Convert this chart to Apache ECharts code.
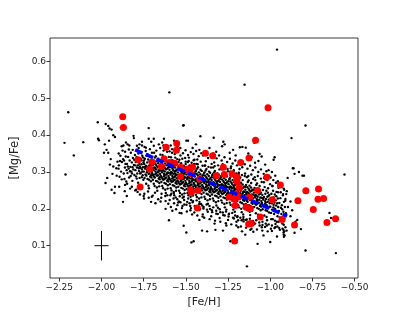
<!DOCTYPE html>
<html><head><meta charset="utf-8">
<script src="https://cdn.jsdelivr.net/npm/echarts@6/dist/echarts.min.js"></script>
<style>html,body{margin:0;padding:0;background:#fff}#c{width:399px;height:319px}</style>
</head><body><div id="c"></div>
<script>
const xTicks = [-2.25,-2.0,-1.75,-1.5,-1.25,-1.0,-0.75,-0.5];
const yTicks = [0.1,0.2,0.3,0.4,0.5,0.6];
const fitX = [-1.80,-0.90];
const fitY = [0.36,0.18];
const errCenter = [-2.0,0.1];
const errHalfX = 0.042;
const errHalfY = 0.04;
const redStars = [
[-1.874,.450],[-1.870,.421],[-1.783,.333],[-1.771,.259],[-1.714,.308],[-1.700,.327],
[-1.645,.315],[-1.629,.336],[-1.617,.367],[-1.596,.326],[-1.566,.324],[-1.554,.377],[-1.556,.359],[-1.532,.288],[-1.532,.313],
[-1.493,.308],[-1.478,.300],[-1.460,.313],[-1.470,.295],[-1.418,.281],[-1.473,.252],[-1.428,.250],[-1.467,.245],[-1.432,.202],
[-1.384,.351],[-1.341,.344],[-1.319,.290],[-1.278,.313],[-1.272,.293],[-1.226,.295],[-1.197,.286],[-1.197,.274],[-1.183,.258],[-1.175,.326],[-1.126,.338],[-1.087,.386],
[-1.242,.232],[-1.215,.227],[-1.187,.232],[-1.200,.240],[-1.207,.209],[-1.122,.232],[-1.142,.204],[-1.118,.200],[-1.128,.159],[-1.112,.160],[-1.211,.113],
[-1.075,.250],[-1.059,.178],[-1.021,.286],[-1.013,.474],[-0.940,.265],[-0.988,.225],[-0.930,.171],[-0.856,.156],
[-0.836,.222],[-0.789,.249],[-0.745,.198],[-0.714,.254],[-0.717,.226],[-0.684,.228],[-0.664,.163],[-0.613,.173]
];
const fieldCore = [
[-1.897,.318],[-1.884,.301],[-1.872,.335],[-1.861,.312],[-1.893,.287],[-1.856,.342],[-1.868,.296],[-1.879,.327],[-1.851,.305],[-1.888,.344],[-1.864,.281],[-1.875,.358],[-1.858,.322],[-1.899,.309],[-1.853,.274],[-1.866,.331],
[-1.849,.322],[-1.846,.297],[-1.842,.341],[-1.839,.309],[-1.836,.285],[-1.833,.331],[-1.829,.314],[-1.826,.352],[-1.823,.301],[-1.82,.326],[-1.817,.276],[-1.814,.338],[-1.811,.307],[-1.808,.319],[-1.805,.292],[-1.802,.346],[-1.848,.268],[-1.838,.361],[-1.827,.289],[-1.816,.313],[-1.806,.333],[-1.844,.315],[-1.831,.302],[-1.819,.296],[-1.801,.318],
[-1.799,.305],[-1.797,.327],[-1.795,.288],[-1.792,.341],[-1.79,.312],[-1.788,.296],[-1.785,.318],[-1.783,.271],[-1.781,.35],[-1.778,.303],[-1.776,.329],[-1.774,.284],[-1.772,.315],[-1.769,.337],[-1.767,.298],[-1.765,.262],[-1.762,.321],[-1.76,.307],[-1.758,.344],[-1.756,.291],[-1.754,.313],[-1.752,.279],[-1.751,.326],[-1.794,.358],[-1.786,.246],[-1.779,.31],[-1.771,.296],[-1.763,.332],[-1.757,.301],[-1.791,.282],[-1.784,.333],[-1.775,.322],[-1.768,.311],[-1.761,.286],[-1.753,.339],
[-1.749,.301],[-1.747,.322],[-1.745,.284],[-1.743,.336],[-1.741,.309],[-1.739,.293],[-1.737,.317],[-1.735,.268],[-1.733,.344],[-1.731,.299],[-1.729,.326],[-1.727,.281],[-1.725,.312],[-1.723,.334],[-1.721,.295],[-1.719,.256],[-1.717,.318],[-1.715,.304],[-1.713,.341],[-1.711,.287],[-1.709,.31],[-1.707,.275],[-1.705,.323],[-1.703,.3],[-1.701,.352],[-1.746,.241],[-1.738,.357],[-1.73,.306],[-1.722,.263],[-1.714,.329],[-1.706,.291],[-1.742,.314],[-1.734,.29],[-1.726,.302],[-1.718,.279],[-1.71,.32],[-1.702,.309],[-1.748,.331],[-1.732,.315],[-1.716,.296],[-1.704,.285],[-1.728,.348],
[-1.699,.296],[-1.697,.318],[-1.695,.279],[-1.693,.331],[-1.691,.305],[-1.689,.288],[-1.687,.312],[-1.685,.262],[-1.683,.339],[-1.681,.294],[-1.679,.321],[-1.677,.276],[-1.675,.307],[-1.673,.329],[-1.671,.29],[-1.669,.249],[-1.667,.313],[-1.665,.299],[-1.663,.336],[-1.661,.282],[-1.659,.305],[-1.657,.27],[-1.655,.318],[-1.653,.295],[-1.651,.347],[-1.696,.236],[-1.688,.352],[-1.68,.301],[-1.672,.258],[-1.664,.324],[-1.656,.286],[-1.692,.309],[-1.684,.285],[-1.676,.297],[-1.668,.274],[-1.66,.315],[-1.652,.304],[-1.698,.326],[-1.682,.31],[-1.666,.291],[-1.654,.28],[-1.678,.343],[-1.69,.268],[-1.674,.317],[-1.662,.302],[-1.686,.325],[-1.658,.261],[-1.694,.292],
[-1.649,.29],[-1.647,.312],[-1.645,.273],[-1.643,.325],[-1.641,.299],[-1.639,.282],[-1.637,.306],[-1.635,.256],[-1.633,.333],[-1.631,.288],[-1.629,.315],[-1.627,.27],[-1.625,.301],[-1.623,.323],[-1.621,.284],[-1.619,.243],[-1.617,.307],[-1.615,.293],[-1.613,.33],[-1.611,.276],[-1.609,.299],[-1.607,.264],[-1.605,.312],[-1.603,.289],[-1.601,.341],[-1.646,.23],[-1.638,.346],[-1.63,.295],[-1.622,.252],[-1.614,.318],[-1.606,.28],[-1.642,.303],[-1.634,.279],[-1.626,.291],[-1.618,.268],[-1.61,.309],[-1.602,.298],[-1.648,.32],[-1.632,.304],[-1.616,.285],[-1.604,.274],[-1.628,.337],[-1.64,.262],[-1.624,.311],[-1.612,.296],[-1.636,.319],[-1.608,.255],[-1.644,.286],[-1.62,.221],[-1.632,.358],[-1.61,.237],[-1.626,.281],
[-1.599,.284],[-1.597,.306],[-1.595,.267],[-1.593,.319],[-1.591,.293],[-1.589,.276],[-1.587,.3],[-1.585,.25],[-1.583,.327],[-1.581,.282],[-1.579,.309],[-1.577,.264],[-1.575,.295],[-1.573,.317],[-1.571,.278],[-1.569,.237],[-1.567,.301],[-1.565,.287],[-1.563,.324],[-1.561,.27],[-1.559,.293],[-1.557,.258],[-1.555,.306],[-1.553,.283],[-1.551,.335],[-1.596,.224],[-1.588,.34],[-1.58,.289],[-1.572,.246],[-1.564,.312],[-1.556,.274],[-1.592,.297],[-1.584,.273],[-1.576,.285],[-1.568,.262],[-1.56,.303],[-1.552,.292],[-1.598,.314],[-1.582,.298],[-1.566,.279],[-1.554,.268],[-1.578,.331],[-1.59,.256],[-1.574,.305],[-1.562,.29],[-1.586,.313],[-1.558,.249],[-1.594,.28],[-1.57,.215],[-1.582,.352],[-1.56,.231],[-1.576,.275],[-1.59,.322],[-1.564,.296],[-1.556,.321],[-1.586,.241],
[-1.549,.277],[-1.547,.299],[-1.545,.26],[-1.543,.312],[-1.541,.286],[-1.539,.269],[-1.537,.293],[-1.535,.243],[-1.533,.32],[-1.531,.275],[-1.529,.302],[-1.527,.257],[-1.525,.288],[-1.523,.31],[-1.521,.271],[-1.519,.23],[-1.517,.294],[-1.515,.28],[-1.513,.317],[-1.511,.263],[-1.509,.286],[-1.507,.251],[-1.505,.299],[-1.503,.276],[-1.501,.328],[-1.546,.217],[-1.538,.333],[-1.53,.282],[-1.522,.239],[-1.514,.305],[-1.506,.267],[-1.542,.29],[-1.534,.266],[-1.526,.278],[-1.518,.255],[-1.51,.296],[-1.502,.285],[-1.548,.307],[-1.532,.291],[-1.516,.272],[-1.504,.261],[-1.528,.324],[-1.54,.249],[-1.524,.298],[-1.512,.283],[-1.536,.306],[-1.508,.242],[-1.544,.273],[-1.52,.208],[-1.532,.345],[-1.51,.224],[-1.526,.268],[-1.54,.315],[-1.514,.289],[-1.506,.314],[-1.536,.234],[-1.523,.202],[-1.504,.338],
[-1.499,.271],[-1.497,.293],[-1.495,.254],[-1.493,.306],[-1.491,.28],[-1.489,.263],[-1.487,.287],[-1.485,.237],[-1.483,.314],[-1.481,.269],[-1.479,.296],[-1.477,.251],[-1.475,.282],[-1.473,.304],[-1.471,.265],[-1.469,.224],[-1.467,.288],[-1.465,.274],[-1.463,.311],[-1.461,.257],[-1.459,.28],[-1.457,.245],[-1.455,.293],[-1.453,.27],[-1.451,.322],[-1.496,.211],[-1.488,.327],[-1.48,.276],[-1.472,.233],[-1.464,.299],[-1.456,.261],[-1.492,.284],[-1.484,.26],[-1.476,.272],[-1.468,.249],[-1.46,.29],[-1.452,.279],[-1.498,.301],[-1.482,.285],[-1.466,.266],[-1.454,.255],[-1.478,.318],[-1.49,.243],[-1.474,.292],[-1.462,.277],[-1.486,.3],[-1.458,.236],[-1.494,.267],[-1.47,.202],[-1.482,.339],[-1.46,.218],[-1.476,.262],[-1.49,.309],[-1.464,.283],[-1.456,.308],[-1.486,.228],[-1.473,.196],[-1.454,.332],
[-1.449,.266],[-1.447,.288],[-1.445,.249],[-1.443,.301],[-1.441,.275],[-1.439,.258],[-1.437,.282],[-1.435,.232],[-1.433,.309],[-1.431,.264],[-1.429,.291],[-1.427,.246],[-1.425,.277],[-1.423,.299],[-1.421,.26],[-1.419,.219],[-1.417,.283],[-1.415,.269],[-1.413,.306],[-1.411,.252],[-1.409,.275],[-1.407,.24],[-1.405,.288],[-1.403,.265],[-1.401,.317],[-1.446,.206],[-1.438,.322],[-1.43,.271],[-1.422,.228],[-1.414,.294],[-1.406,.256],[-1.442,.279],[-1.434,.255],[-1.426,.267],[-1.418,.244],[-1.41,.285],[-1.402,.274],[-1.448,.296],[-1.432,.28],[-1.416,.261],[-1.404,.25],[-1.428,.313],[-1.44,.238],[-1.424,.287],[-1.412,.272],[-1.436,.295],[-1.408,.231],[-1.444,.262],[-1.42,.197],[-1.432,.334],[-1.41,.213],[-1.426,.257],[-1.44,.304],[-1.414,.278],[-1.406,.303],[-1.436,.223],
[-1.399,.261],[-1.397,.283],[-1.395,.244],[-1.393,.296],[-1.391,.27],[-1.389,.253],[-1.387,.277],[-1.385,.227],[-1.383,.304],[-1.381,.259],[-1.379,.286],[-1.377,.241],[-1.375,.272],[-1.373,.294],[-1.371,.255],[-1.369,.214],[-1.367,.278],[-1.365,.264],[-1.363,.301],[-1.361,.247],[-1.359,.27],[-1.357,.235],[-1.355,.283],[-1.353,.26],[-1.351,.312],[-1.396,.201],[-1.388,.317],[-1.38,.266],[-1.372,.223],[-1.364,.289],[-1.356,.251],[-1.392,.274],[-1.384,.25],[-1.376,.262],[-1.368,.239],[-1.36,.28],[-1.352,.269],[-1.398,.291],[-1.382,.275],[-1.366,.256],[-1.354,.245],[-1.378,.308],[-1.39,.233],[-1.374,.282],[-1.362,.267],[-1.386,.29],[-1.358,.226],[-1.394,.257],[-1.37,.192],[-1.382,.329],[-1.36,.208],[-1.376,.252],[-1.39,.299],[-1.364,.273],[-1.356,.298],
[-1.349,.256],[-1.347,.278],[-1.345,.239],[-1.343,.291],[-1.341,.265],[-1.339,.248],[-1.337,.272],[-1.335,.222],[-1.333,.299],[-1.331,.254],[-1.329,.281],[-1.327,.236],[-1.325,.267],[-1.323,.289],[-1.321,.25],[-1.319,.209],[-1.317,.273],[-1.315,.259],[-1.313,.296],[-1.311,.242],[-1.309,.265],[-1.307,.23],[-1.305,.278],[-1.303,.255],[-1.301,.307],[-1.346,.196],[-1.338,.312],[-1.33,.261],[-1.322,.218],[-1.314,.284],[-1.306,.246],[-1.342,.269],[-1.334,.245],[-1.326,.257],[-1.318,.234],[-1.31,.275],[-1.302,.264],[-1.348,.286],[-1.332,.27],[-1.316,.251],[-1.304,.24],[-1.328,.303],[-1.34,.228],[-1.324,.277],[-1.312,.262],[-1.336,.285],[-1.308,.221],[-1.344,.252],[-1.32,.187],[-1.332,.326],[-1.31,.203],[-1.326,.247],[-1.34,.294],[-1.314,.268],[-1.306,.293],
[-1.299,.251],[-1.297,.273],[-1.295,.234],[-1.293,.286],[-1.291,.26],[-1.289,.243],[-1.287,.267],[-1.285,.217],[-1.283,.294],[-1.281,.249],[-1.279,.276],[-1.277,.231],[-1.275,.262],[-1.273,.284],[-1.271,.245],[-1.269,.204],[-1.267,.268],[-1.265,.254],[-1.263,.291],[-1.261,.237],[-1.259,.26],[-1.257,.225],[-1.255,.273],[-1.253,.25],[-1.251,.302],[-1.296,.191],[-1.288,.307],[-1.28,.256],[-1.272,.213],[-1.264,.279],[-1.256,.241],[-1.292,.264],[-1.284,.24],[-1.276,.252],[-1.268,.229],[-1.26,.27],[-1.252,.259],[-1.298,.281],[-1.282,.265],[-1.266,.246],[-1.254,.235],[-1.278,.298],[-1.29,.223],[-1.274,.272],[-1.262,.257],[-1.286,.28],[-1.258,.216],[-1.294,.247],[-1.27,.182],[-1.282,.321],[-1.26,.198],[-1.276,.242],[-1.29,.289],[-1.264,.263],[-1.256,.288],
[-1.249,.245],[-1.247,.267],[-1.245,.228],[-1.243,.28],[-1.241,.254],[-1.239,.237],[-1.237,.261],[-1.235,.211],[-1.233,.288],[-1.231,.243],[-1.229,.27],[-1.227,.225],[-1.225,.256],[-1.223,.278],[-1.221,.239],[-1.219,.198],[-1.217,.262],[-1.215,.248],[-1.213,.285],[-1.211,.231],[-1.209,.254],[-1.207,.219],[-1.205,.267],[-1.203,.244],[-1.201,.296],[-1.246,.185],[-1.238,.301],[-1.23,.25],[-1.222,.207],[-1.214,.273],[-1.206,.235],[-1.242,.258],[-1.234,.234],[-1.226,.246],[-1.218,.223],[-1.21,.264],[-1.202,.253],[-1.248,.275],[-1.232,.259],[-1.216,.24],[-1.204,.229],[-1.228,.292],[-1.24,.217],[-1.224,.266],[-1.212,.251],[-1.236,.274],[-1.208,.21],[-1.244,.241],[-1.22,.176],[-1.232,.315],[-1.21,.192],[-1.226,.236],[-1.24,.283],[-1.214,.257],[-1.206,.282],
[-1.199,.238],[-1.197,.26],[-1.195,.221],[-1.193,.273],[-1.191,.247],[-1.189,.23],[-1.187,.254],[-1.185,.204],[-1.183,.281],[-1.181,.236],[-1.179,.263],[-1.177,.218],[-1.175,.249],[-1.173,.271],[-1.171,.232],[-1.169,.191],[-1.167,.255],[-1.165,.241],[-1.163,.278],[-1.161,.224],[-1.159,.247],[-1.157,.212],[-1.155,.26],[-1.153,.237],[-1.151,.289],[-1.196,.178],[-1.188,.294],[-1.18,.243],[-1.172,.2],[-1.164,.266],[-1.156,.228],[-1.192,.251],[-1.184,.227],[-1.176,.239],[-1.168,.216],[-1.16,.257],[-1.152,.246],[-1.198,.268],[-1.182,.252],[-1.166,.233],[-1.154,.222],[-1.178,.285],[-1.19,.21],[-1.174,.259],[-1.162,.244],[-1.186,.267],[-1.158,.203],[-1.194,.234],[-1.17,.169],[-1.182,.308],[-1.16,.185],[-1.176,.229],
[-1.149,.23],[-1.147,.252],[-1.145,.213],[-1.143,.265],[-1.141,.239],[-1.139,.222],[-1.137,.246],[-1.135,.196],[-1.133,.273],[-1.131,.228],[-1.129,.255],[-1.127,.21],[-1.125,.241],[-1.123,.263],[-1.121,.224],[-1.119,.183],[-1.117,.247],[-1.115,.233],[-1.113,.27],[-1.111,.216],[-1.109,.239],[-1.107,.204],[-1.105,.252],[-1.103,.229],[-1.101,.281],[-1.146,.17],[-1.138,.286],[-1.13,.235],[-1.122,.192],[-1.114,.258],[-1.106,.22],[-1.142,.243],[-1.134,.219],[-1.126,.231],[-1.118,.208],[-1.11,.249],[-1.102,.238],[-1.148,.26],[-1.132,.244],[-1.116,.225],[-1.104,.214],[-1.128,.277],[-1.14,.202],[-1.124,.251],[-1.112,.236],[-1.136,.259],[-1.108,.195],[-1.144,.226],
[-1.099,.222],[-1.097,.244],[-1.095,.205],[-1.093,.257],[-1.091,.231],[-1.089,.214],[-1.087,.238],[-1.085,.188],[-1.083,.265],[-1.081,.22],[-1.079,.247],[-1.077,.202],[-1.075,.233],[-1.073,.255],[-1.071,.216],[-1.069,.175],[-1.067,.239],[-1.065,.225],[-1.063,.262],[-1.061,.208],[-1.059,.231],[-1.057,.196],[-1.055,.244],[-1.053,.221],[-1.051,.273],[-1.096,.162],[-1.088,.278],[-1.08,.227],[-1.072,.184],[-1.064,.25],[-1.056,.212],[-1.092,.235],[-1.084,.211],[-1.076,.223],[-1.068,.2],[-1.06,.241],[-1.052,.23],[-1.098,.252],[-1.082,.236],[-1.066,.217],[-1.054,.206],[-1.078,.269],
[-1.049,.216],[-1.047,.238],[-1.045,.199],[-1.043,.251],[-1.041,.225],[-1.039,.208],[-1.037,.232],[-1.035,.182],[-1.033,.259],[-1.031,.214],[-1.029,.241],[-1.027,.196],[-1.025,.227],[-1.023,.249],[-1.021,.21],[-1.019,.169],[-1.017,.233],[-1.015,.219],[-1.013,.256],[-1.011,.202],[-1.009,.225],[-1.007,.19],[-1.005,.238],[-1.003,.215],[-1.001,.267],[-1.046,.156],[-1.038,.272],[-1.03,.221],[-1.022,.178],[-1.014,.244],[-1.006,.206],[-1.042,.229],[-1.034,.205],[-1.026,.217],[-1.018,.194],[-1.01,.235],
[-0.999,.206],[-0.997,.228],[-0.995,.189],[-0.993,.241],[-0.991,.215],[-0.989,.198],[-0.987,.222],[-0.985,.172],[-0.983,.249],[-0.981,.204],[-0.979,.231],[-0.977,.186],[-0.975,.217],[-0.973,.239],[-0.971,.2],[-0.969,.159],[-0.967,.223],[-0.965,.209],[-0.963,.246],[-0.961,.192],[-0.959,.215],[-0.957,.18],[-0.955,.228],[-0.953,.205],[-0.951,.257],[-0.996,.146],[-0.988,.262],[-0.98,.211],[-0.972,.168],[-0.964,.234],
[-0.949,.194],[-0.946,.216],[-0.943,.177],[-0.94,.229],[-0.937,.203],[-0.934,.186],[-0.931,.21],[-0.928,.16],[-0.925,.237],[-0.922,.192],[-0.919,.219],[-0.916,.174],[-0.913,.205],[-0.91,.227],[-0.907,.188],[-0.947,.148],[-0.938,.245],[-0.929,.199],[-0.92,.157],[-0.911,.222],
[-0.922,.143],[-0.921,.136],[-0.92,.13],[-0.919,.124],[-0.917,.139],[-0.915,.128],[-0.903,.141]
];
const fieldWide = [
[-1.895,.26],[-1.88,.37],[-1.862,.248],[-1.845,.375],[-1.83,.255],[-1.815,.36],[-1.86,.355],[-1.89,.33],
[-1.795,.252],[-1.78,.365],[-1.772,.239],[-1.76,.372],[-1.748,.228],[-1.737,.366],[-1.724,.247],[-1.713,.362],[-1.702,.233],[-1.69,.371],[-1.683,.244],[-1.675,.358],[-1.664,.226],[-1.652,.365],[-1.644,.241],[-1.633,.372],[-1.622,.235],[-1.611,.355],[-1.604,.214],[-1.617,.362],
[-1.597,.356],[-1.589,.205],[-1.581,.362],[-1.573,.228],[-1.566,.349],[-1.558,.199],[-1.549,.357],[-1.541,.22],[-1.533,.365],[-1.526,.188],[-1.517,.351],[-1.509,.212],[-1.502,.359],[-1.494,.193],[-1.487,.346],[-1.478,.215],[-1.471,.354],[-1.463,.185],[-1.455,.349],[-1.447,.208],[-1.439,.357],[-1.432,.182],[-1.424,.343],[-1.416,.2],[-1.408,.351],[-1.401,.179],
[-1.592,.237],[-1.584,.331],[-1.571,.243],[-1.563,.339],[-1.551,.226],[-1.543,.327],[-1.532,.218],[-1.521,.336],[-1.512,.233],[-1.501,.322],[-1.492,.219],[-1.483,.33],[-1.474,.208],[-1.466,.325],[-1.457,.221],[-1.449,.333],[-1.44,.205],[-1.43,.321],[-1.421,.213],[-1.412,.328],[-1.403,.209],
[-1.398,.345],[-1.391,.176],[-1.383,.352],[-1.375,.198],[-1.368,.338],[-1.359,.172],[-1.351,.344],[-1.344,.191],[-1.336,.35],[-1.327,.168],[-1.318,.337],[-1.311,.186],[-1.303,.345],[-1.296,.165],[-1.288,.331],[-1.279,.183],[-1.271,.34],[-1.263,.161],[-1.255,.327],[-1.247,.179],[-1.239,.336],[-1.231,.158],[-1.223,.323],[-1.215,.174],[-1.207,.331],[-1.201,.155],
[-1.395,.205],[-1.386,.318],[-1.377,.212],[-1.366,.314],[-1.357,.2],[-1.347,.322],[-1.338,.204],[-1.329,.316],[-1.32,.195],[-1.309,.318],[-1.299,.199],[-1.29,.311],[-1.281,.19],[-1.27,.315],[-1.262,.193],[-1.253,.308],[-1.244,.187],[-1.234,.31],[-1.225,.189],[-1.216,.305],[-1.208,.182],
[-1.197,.318],[-1.19,.169],[-1.182,.326],[-1.174,.152],[-1.166,.313],[-1.158,.166],[-1.151,.321],[-1.143,.149],[-1.135,.309],[-1.127,.163],[-1.119,.317],[-1.111,.146],[-1.103,.305],[-1.096,.159],[-1.088,.312],[-1.079,.144],[-1.071,.3],[-1.063,.155],[-1.055,.307],[-1.047,.141],[-1.039,.295],[-1.031,.151],[-1.023,.302],[-1.015,.139],[-1.007,.29],
[-1.194,.18],[-1.186,.298],[-1.177,.176],[-1.168,.292],[-1.159,.178],[-1.149,.296],[-1.139,.171],[-1.13,.289],[-1.121,.173],[-1.112,.293],[-1.102,.167],[-1.092,.286],[-1.083,.169],[-1.074,.289],[-1.065,.163],[-1.056,.282],[-1.046,.165],[-1.037,.284],[-1.027,.16],[-1.018,.278],[-1.009,.158],
[-0.998,.285],[-0.99,.155],[-0.982,.278],[-0.975,.148],[-0.966,.271],[-0.958,.152],[-0.951,.268],[-0.943,.143],[-0.935,.26],[-0.927,.146],[-0.918,.252],[-0.91,.15],[-0.902,.248],[-0.994,.172],[-0.986,.262],[-0.961,.165],[-0.954,.245],[-0.936,.168],[-0.924,.24]
];
const fieldHalo = [
[-0.96,.632],[-1.152,.537],[-1.598,.516],[-2.197,.462],[-1.516,.426],[-0.791,.426],[-0.874,.392],[-2.219,.379],[-2.108,.381],[-2.164,.345],[-2.213,.293],[-2.022,.435],[-1.975,.43],[-1.96,.425],[-1.952,.418],[-1.94,.415],[-2.02,.39],[-2.015,.386],[-1.98,.375],[-1.97,.36],[-1.96,.352],[-1.955,.385],[-1.93,.4],[-1.92,.395],[-1.885,.42],[-1.81,.398],[-1.808,.392],[-1.72,.419],[-1.72,.39],[-1.705,.382],[-1.69,.39],[-1.63,.39],[-1.513,.427],[-1.487,.385],[-1.335,.393],[-1.414,.397],[-1.497,.385],[-1.278,.382],[-1.27,.375],[-1.285,.37],[-1.18,.367],[-1.165,.368],[-1.145,.366],[-1.094,.379],[-1.063,.349],[-1.051,.342],[-0.974,.34],[-0.98,.333],[-0.866,.31],[-0.862,.31],[-0.809,.29],[-0.856,.295],[-0.56,.293],[-0.897,.284],[-0.791,.087],[-0.611,.08],[-1.138,.044],[-1.467,.109],[-1.404,.141],[-1.374,.139],[-1.325,.143],[-1.28,.141],[-1.236,.112],[-1.167,.139],[-1.148,.13],[-1.118,.143],[-1.075,.105],[-0.649,.189],[-0.64,.175],[-0.852,.154],[-0.856,.135],[-0.818,.145],[-0.87,.196],[-0.88,.18],[-1.94,.252],[-1.923,.243],[-1.966,.284],[-1.976,.27],[-1.872,.219],[-1.85,.235],[-1.706,.219],[-1.60,.169],[-1.537,.189],[-1.497,.136],[-1.454,.112],[-1.513,.154],[-1.95,.32],[-1.93,.315],[-1.912,.31],[-1.905,.328],[-1.91,.29],[-1.935,.295],[-1.985,.352],[-1.945,.335],[-1.898,.35],[-1.87,.372],[-1.855,.38],[-1.835,.372],[-1.79,.371],[-1.775,.375],[-1.76,.382],[-1.745,.368],[-1.66,.375],[-1.64,.38],[-1.59,.372],[-1.57,.385],[-1.55,.37],[-1.46,.365],[-1.44,.375],[-1.42,.36],[-1.36,.365],[-1.32,.355],[-1.24,.352],[-1.22,.36],[-1.205,.345],[-1.13,.35],[-1.11,.34],[-1.09,.325],[-1.07,.33],[-1.03,.32],[-1.01,.305],[-0.99,.3],[-0.97,.29],[-0.955,.275],[-0.93,.265],[-0.92,.255],[-0.905,.24],[-0.95,.165],[-0.97,.15],[-0.99,.14],[-1.02,.155],[-1.05,.15],[-1.09,.16],[-1.12,.165],[-1.16,.172],[-1.2,.165],[-1.25,.17],[-1.3,.175],[-1.35,.18],[-1.4,.185],[-1.45,.19],[-1.55,.21],[-1.65,.22],[-1.75,.235],[-1.8,.25],[-1.82,.26],[-1.88,.28],[-1.86,.265],[-0.96,.125],[-1.0,.11],[-1.04,.128],[-1.1,.138],[-1.19,.15],[-1.26,.155],[-1.33,.16],[-1.42,.17],[-1.58,.195],[-1.62,.2],[-1.68,.215],[-1.72,.23],[-1.92,.26],[-0.85,.165],[-0.84,.17],[-0.88,.22],[-0.895,.205],[-0.83,.3],[-0.80,.29]
];

const font = 'DejaVu Sans';
const fmtX = v => (v < 0 ? '\u2212' : '') + Math.abs(v).toFixed(2);
const fmtY = v => v.toFixed(1);
const chart = echarts.init(document.getElementById('c'), null, {renderer: 'canvas'});
chart.setOption({
  animation: false,
  backgroundColor: '#fff',
  grid: {left: 50, right: 41, top: 38, bottom: 41, show: true, borderColor: '#3a3a3a', borderWidth: 1, backgroundColor: 'transparent'},
  xAxis: {
    type: 'value', min: -2.305, max: -0.48,
    axisLine: {show: false},
    splitLine: {show: false},
    axisTick: {show: true, length: 3.5, customValues: xTicks, lineStyle: {color: '#333'}},
    axisLabel: {customValues: xTicks, formatter: fmtX, margin: 5, fontSize: 9, color: '#222', fontFamily: font},
    name: '[Fe/H]', nameLocation: 'middle', nameGap: 12,
    nameTextStyle: {fontSize: 11, color: '#222', fontFamily: font}
  },
  yAxis: {
    type: 'value', min: 0.0124, max: 0.6635,
    axisLine: {show: false},
    splitLine: {show: false},
    axisTick: {show: true, length: 3.5, customValues: yTicks, lineStyle: {color: '#333'}},
    axisLabel: {customValues: yTicks, formatter: fmtY, margin: 4, fontSize: 9, color: '#222', fontFamily: font},
    name: '[Mg/Fe]', nameLocation: 'middle', nameGap: 21, nameRotate: 90,
    nameTextStyle: {fontSize: 11.5, color: '#222', fontFamily: font}
  },
  series: [
    {type: 'scatter', data: fieldCore.concat(fieldWide, fieldHalo), symbol: 'circle', symbolSize: 2.4,
     itemStyle: {color: '#000', opacity: 1}, silent: true, z: 1},
    {type: 'scatter', data: redStars, symbol: 'circle', symbolSize: 7,
     itemStyle: {color: '#ff0000', opacity: 1}, silent: true, z: 2},
    {type: 'line', data: fitX.map((x, i) => [x, fitY[i]]), symbol: 'none',
     lineStyle: {color: '#0000ff', width: 3.5, type: [8, 3.5]}, silent: true, z: 3},
    {type: 'line', data: [[errCenter[0] - errHalfX, errCenter[1]], [errCenter[0] + errHalfX, errCenter[1]]], symbol: 'none',
     lineStyle: {color: '#000', width: 1}, silent: true, z: 3},
    {type: 'line', data: [[errCenter[0], errCenter[1] - errHalfY], [errCenter[0], errCenter[1] + errHalfY]], symbol: 'none',
     lineStyle: {color: '#000', width: 1}, silent: true, z: 3}
  ]
});
</script></body></html>
